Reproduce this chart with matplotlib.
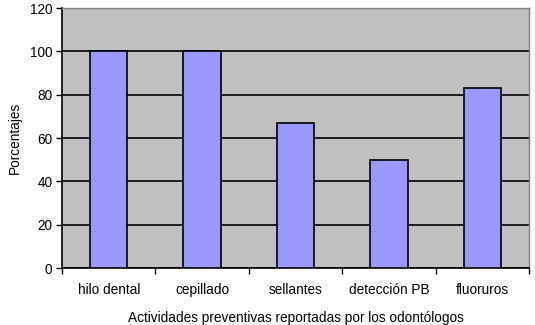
import matplotlib
matplotlib.use("Agg")
import matplotlib.pyplot as plt
import numpy as np

categories = ["hilo dental", "cepillado", "sellantes", "detección PB", "fluoruros"]
values = [100, 100, 67, 50, 83]
yticks = [0, 20, 40, 60, 80, 100, 120]

plt.rcParams['font.family'] = ['Liberation Sans', 'DejaVu Sans']

fig = plt.figure(figsize=(5.35, 3.25), dpi=100)
ax = fig.add_axes([62/535, 57/325, 467/535, 260/325])
ax.set_facecolor('#c0c0c0')
x = np.arange(len(categories))
ax.bar(x, values, width=0.4, color='#9999ff', edgecolor='black', linewidth=1.2, zorder=3)
ax.set_xlim(-0.5, len(categories) - 0.5)
ax.set_ylim(0, 120)
ax.set_yticks(yticks)
ax.yaxis.grid(True, color='black', linewidth=1.2, zorder=1)
ax.set_axisbelow(True)
ax.set_xticks(x)
ax.set_xticklabels(categories, fontsize=9.8)
ax.tick_params(axis='x', length=0, pad=11)
ax.set_xticks(np.arange(-0.5, len(categories)), minor=True)
ax.tick_params(axis='x', which='minor', length=4, width=1, direction='out')
ax.tick_params(axis='y', length=4, width=1, direction='out', labelsize=9.8, pad=3)
for s in ['top', 'right']:
    ax.spines[s].set_color('#808080')
    ax.spines[s].set_linewidth(1)
ax.spines['left'].set_linewidth(1.2)
ax.spines['bottom'].set_linewidth(1.2)
ax.set_xlabel("Actividades preventivas reportadas por los odontólogos", fontsize=9.8, labelpad=10)
ax.set_ylabel("Porcentajes", fontsize=9.8, labelpad=6)
fig.savefig("out.png", dpi=100)
